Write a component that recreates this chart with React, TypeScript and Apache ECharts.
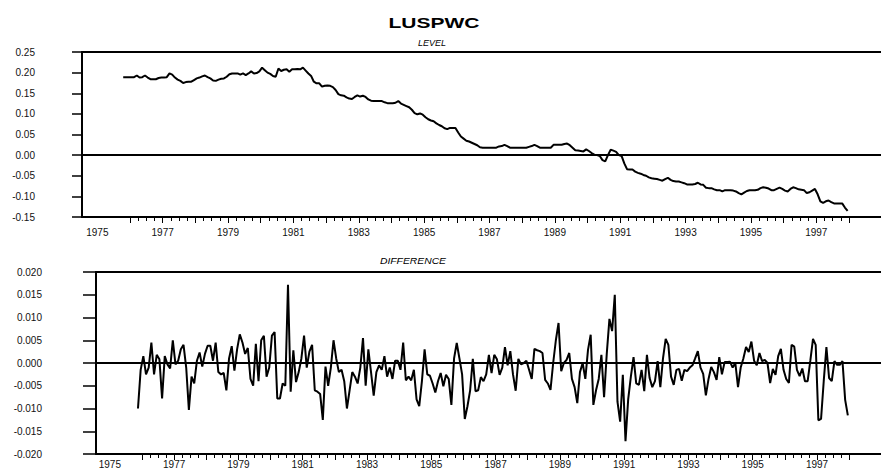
import React, { useEffect, useRef } from "react";
import * as echarts from "echarts";

const TITLE = "LUSPWC";
const LEVEL_TITLE = "LEVEL";
const DIFF_TITLE = "DIFFERENCE";

// first month of each series (year, month)
const LEVEL_START = [1975, 10];
const DIFF_START = [1975, 11];

const LEVEL = [
  0.189, 0.189, 0.189, 0.189, 0.189, 0.193, 0.188, 0.189, 0.193, 0.188,
  0.184, 0.184, 0.184, 0.187, 0.188, 0.188, 0.189, 0.198, 0.195, 0.188,
  0.183, 0.180, 0.175, 0.177, 0.178, 0.178, 0.182, 0.186, 0.188, 0.191,
  0.193, 0.189, 0.186, 0.181, 0.180, 0.183, 0.185, 0.186, 0.190, 0.196,
  0.198, 0.198, 0.198, 0.195, 0.198, 0.194, 0.198, 0.203, 0.198, 0.199,
  0.203, 0.212, 0.206, 0.200, 0.197, 0.192, 0.190, 0.210, 0.204, 0.207,
  0.208, 0.202, 0.208, 0.208, 0.209, 0.208, 0.212, 0.205, 0.198, 0.192,
  0.178, 0.174, 0.174, 0.166, 0.168, 0.169, 0.168, 0.165, 0.158, 0.148,
  0.145, 0.144, 0.140, 0.137, 0.136, 0.141, 0.145, 0.142, 0.144, 0.141,
  0.135, 0.132, 0.131, 0.131, 0.131, 0.131, 0.128, 0.126, 0.126, 0.126,
  0.127, 0.131, 0.125, 0.122, 0.119, 0.116, 0.110, 0.102, 0.099, 0.101,
  0.098, 0.092, 0.087, 0.084, 0.082, 0.077, 0.073,
  0.070, 0.065, 0.063, 0.066, 0.066, 0.066, 0.055, 0.045, 0.040, 0.035,
  0.033, 0.030, 0.027, 0.024, 0.019, 0.018, 0.018, 0.018, 0.018, 0.018,
  0.018, 0.021, 0.022, 0.025, 0.022, 0.018, 0.018, 0.018, 0.018, 0.018,
  0.018, 0.018, 0.020, 0.022, 0.025, 0.022, 0.018, 0.018, 0.018, 0.018,
  0.018, 0.025, 0.025, 0.025, 0.025, 0.027, 0.028, 0.024, 0.018, 0.012,
  0.011, 0.010, 0.009, 0.014, 0.010, 0.005, 0.001, 0.000, -0.002, -0.012,
  -0.015, 0.000, 0.013, 0.011, 0.008, 0.000, -0.002, -0.020, -0.034, -0.035,
  -0.035, -0.040, -0.043, -0.045, -0.048, -0.050, -0.054, -0.056, -0.057, -0.058,
  -0.060, -0.062, -0.058, -0.055, -0.060, -0.063, -0.064, -0.064, -0.066, -0.068,
  -0.071, -0.071, -0.071, -0.070, -0.067, -0.071, -0.072, -0.079, -0.080, -0.080,
  -0.083, -0.085, -0.085, -0.088, -0.085, -0.085, -0.085, -0.086, -0.088, -0.092,
  -0.095, -0.091, -0.087, -0.085, -0.085, -0.085, -0.084, -0.080, -0.078, -0.079,
  -0.081, -0.085, -0.085, -0.082, -0.079, -0.082, -0.086, -0.088, -0.082, -0.078,
  -0.080, -0.083, -0.084, -0.085, -0.092, -0.090, -0.086, -0.082, -0.095, -0.112,
  -0.116, -0.112, -0.110, -0.114, -0.117, -0.117, -0.117, -0.117, -0.127, -0.135,
];

const DIFF = [
  -0.0100, -0.0015, 0.0015, -0.0025, -0.0010, 0.0045, -0.0025, 0.0018, 0.0008, -0.0078,
  0.0015, -0.0003, -0.0012, 0.0050, -0.0003, 0.0005, 0.0030, 0.0040, -0.0010, -0.0103,
  -0.0030, -0.0045, 0.0005, 0.0023, -0.0008, 0.0020, 0.0038, 0.0038, 0.0005, 0.0045,
  -0.0020, -0.0025, -0.0022, -0.0060, 0.0010, 0.0037, -0.0017, 0.0030, 0.0063, 0.0045,
  0.0020, 0.0033, -0.0035, -0.0050, 0.0042, -0.0040, 0.0050, 0.0060, -0.0030, -0.0010,
  0.0060, 0.0068, -0.0078, -0.0078, -0.0045, -0.0050, 0.0172, -0.0063, 0.0028, -0.0042,
  -0.0020, 0.0010, 0.0060, -0.0010, 0.0025, 0.0040, -0.0060, -0.0063, -0.0068, -0.0125,
  -0.0008, -0.0050, -0.0010, 0.0050, 0.0010, -0.0020, -0.0015, -0.0040, -0.0100, -0.0060,
  -0.0020, -0.0030, -0.0045, -0.0010, 0.0055, -0.0050, 0.0030, -0.0020, -0.0072, -0.0020,
  -0.0005, -0.0015, 0.0015, -0.0030, -0.0010, -0.0035, 0.0005, 0.0005, -0.0015, 0.0045,
  -0.0038, -0.0030, -0.0038, -0.0015, -0.0080, -0.0095, -0.0040, 0.0030, -0.0025, -0.0028,
  -0.0045, -0.0065, -0.0040,
  -0.0022, -0.0051, -0.0026, -0.0035, -0.0092, 0.0010, 0.0044, 0.0010, -0.0025, -0.0123,
  -0.0095, -0.0060, 0.0009, -0.0062, -0.0060, -0.0031, -0.0040, -0.0025, 0.0018, -0.0022,
  0.0018, 0.0008, -0.0026, -0.0010, 0.0035, -0.0005, 0.0026, -0.0025, -0.0061, 0.0009,
  -0.0003, 0.0000, 0.0005, -0.0015, -0.0035, 0.0031, 0.0028, 0.0026, 0.0022, -0.0037,
  -0.0045, -0.0059, 0.0000, 0.0050, 0.0088, -0.0018, 0.0000, 0.0007, 0.0022, -0.0035,
  -0.0053, -0.0088, -0.0020, 0.0000, -0.0035, 0.0029, 0.0062, -0.0092, -0.0060, -0.0035,
  0.0018, -0.0075, 0.0020, 0.0097, 0.0070, 0.0150, -0.0085, -0.0129, -0.0026, -0.0172,
  -0.0080, -0.0030, 0.0013, -0.0045, -0.0048, -0.0015, -0.0062, 0.0018, -0.0033, -0.0053,
  -0.0040, 0.0004, -0.0053, 0.0010, 0.0053, 0.0040, -0.0030, -0.0048, -0.0015, -0.0013,
  -0.0039, -0.0015, -0.0018, -0.0010, -0.0005, 0.0010, 0.0026, -0.0010, -0.0024, -0.0071,
  -0.0035, -0.0009, -0.0020, -0.0037, 0.0013, -0.0025, 0.0002, 0.0002, 0.0003, -0.0010,
  0.0000, -0.0053, -0.0010, 0.0010, 0.0035, 0.0024, 0.0047, 0.0005, -0.0005, 0.0022,
  0.0004, 0.0007, 0.0000, -0.0044, -0.0013, -0.0026, 0.0015, 0.0031, -0.0015, -0.0035,
  -0.0044, 0.0040, 0.0036, -0.0015, -0.0029, -0.0012, -0.0040, -0.0040, 0.0005, 0.0053,
  0.0040, -0.0126, -0.0123, -0.0040, 0.0035, -0.0033, -0.0040, 0.0004, -0.0004, -0.0004,
  0.0004, -0.0081, -0.0115,
];

const YEAR_LABELS = [1975, 1977, 1979, 1981, 1983, 1985, 1987, 1989, 1991, 1993, 1995, 1997];
const YEAR_TICKS = [
  1976, 1977, 1978, 1979, 1980, 1981, 1982, 1983, 1984, 1985, 1986, 1987,
  1988, 1989, 1990, 1991, 1992, 1993, 1994, 1995, 1996, 1997, 1998,
];
const QUARTER_TICKS: number[] = [];
for (let k = 0; k < YEAR_TICKS.length - 1; k++) {
  for (let q = 0; q < 4; q++) QUARTER_TICKS.push(YEAR_TICKS[k] + q / 4);
}
QUARTER_TICKS.push(YEAR_TICKS[YEAR_TICKS.length - 1]);

const FONT = "'Liberation Sans', Arial, Helvetica, sans-serif";

function toPairs(start: number[], values: number[]) {
  return values.map((v, k) => [start[0] + (start[1] - 1 + k + 0.5) / 12, v]);
}

function xAxesFor(grid: number, min: number, max: number, labelMargin: number) {
  const base: any = { type: "value", gridIndex: grid, min, max, splitLine: { show: false } };
  const line = { color: "#000", width: 2 };
  return [
    {
      ...base,
      position: "bottom",
      axisLine: { show: true, onZero: false, lineStyle: line },
      axisTick: { show: true, customValues: QUARTER_TICKS, length: 4, lineStyle: { color: "#000", width: 1 } },
      axisLabel: {
        show: true,
        customValues: YEAR_LABELS,
        margin: labelMargin,
        color: "#111",
        fontSize: 10,
        lineHeight: 10,
        fontFamily: FONT,
        formatter: (v: number) => String(Math.round(v)),
      },
    },
    {
      ...base,
      position: "bottom",
      axisLine: { show: false, onZero: false },
      axisTick: { show: true, customValues: YEAR_TICKS, length: 6, lineStyle: { color: "#000", width: 1 } },
      axisLabel: { show: false },
    },
    {
      ...base,
      position: "top",
      axisLine: { show: true, onZero: false, lineStyle: line },
      axisTick: { show: false },
      axisLabel: { show: false },
    },
  ];
}

function yAxisFor(grid: number, min: number, max: number, interval: number, digits: number, margin: number, tick: number) {
  return {
    type: "value",
    gridIndex: grid,
    min,
    max,
    interval,
    axisLine: { show: true, onZero: false, lineStyle: { color: "#000", width: 2 } },
    axisTick: { show: true, length: tick, lineStyle: { color: "#000", width: 1.5 } },
    axisLabel: {
      margin,
      color: "#111",
      fontSize: 10,
      fontFamily: FONT,
      formatter: (v: number) => (Math.abs(v) < 1e-9 ? 0 : v).toFixed(digits),
    },
    splitLine: { show: false },
  };
}

function lineSeries(x: number, y: number, data: number[][]) {
  return {
    type: "line",
    xAxisIndex: x,
    yAxisIndex: y,
    data,
    showSymbol: false,
    symbol: "none",
    lineStyle: { color: "#000", width: 2 },
    itemStyle: { color: "#000" },
    silent: true,
    markLine: {
      silent: true,
      symbol: ["none", "none"],
      label: { show: false },
      lineStyle: { color: "#000", width: 2, type: "solid" },
      data: [{ yAxis: 0 }],
    },
  };
}

export default function App() {
  const ref = useRef<HTMLDivElement>(null);
  useEffect(() => {
    if (!ref.current) return;
    const chart = echarts.init(ref.current, null, { renderer: "svg" });
    const option: any = {
      animation: false,
      grid: [
        { left: 82, top: 52, right: 0, height: 165, outerBoundsMode: "none" },
        { left: 96, top: 272, right: 0, height: 182, outerBoundsMode: "none" },
      ],
      xAxis: [...xAxesFor(0, 1974.531, 1998.98, 10), ...xAxesFor(1, 1974.569, 1998.99, 5)],
      yAxis: [
        yAxisFor(0, -0.15, 0.25, 0.05, 2, 47, 10),
        yAxisFor(1, -0.02, 0.02, 0.005, 3, 54, 13),
      ],
      series: [lineSeries(0, 0, toPairs(LEVEL_START, LEVEL)), lineSeries(3, 1, toPairs(DIFF_START, DIFF))],
      graphic: [
        {
          type: "text",
          x: 434,
          y: 23,
          scaleX: 1.5,
          style: { text: TITLE, font: `bold 14px ${FONT}`, fill: "#000", align: "center", verticalAlign: "middle" },
        },
        {
          type: "text",
          x: 446,
          y: 43,
          style: { text: LEVEL_TITLE, font: `italic 9px ${FONT}`, fill: "#000", align: "right", verticalAlign: "middle" },
        },
        {
          type: "text",
          x: 446,
          y: 261,
          scaleX: 1.15,
          style: { text: DIFF_TITLE, font: `italic 9px ${FONT}`, fill: "#000", align: "right", verticalAlign: "middle" },
        },
      ],
    };
    chart.setOption(option);
    return () => chart.dispose();
  }, []);
  return (
    <div
      ref={ref}
      style={{ position: "fixed", left: 0, top: 0, width: 881, height: 470, background: "#fff" }}
    />
  );
}
